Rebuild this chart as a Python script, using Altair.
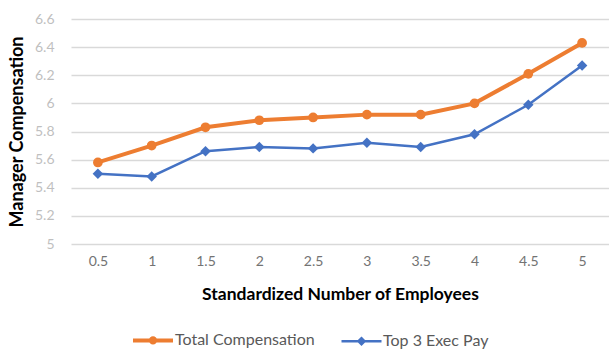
import altair as alt
import pandas as pd

# Standardized number of employees (x categories)
employees = ["0.5", "1", "1.5", "2", "2.5", "3", "3.5", "4", "4.5", "5"]
# Manager compensation by series
total_comp = [5.58, 5.70, 5.83, 5.88, 5.90, 5.92, 5.92, 6.00, 6.21, 6.43]
top3_pay = [5.50, 5.48, 5.66, 5.69, 5.68, 5.72, 5.69, 5.78, 5.99, 6.27]

series_names = ["Total Compensation", "Top 3 Exec Pay"]
series_colors = ["#ED7D31", "#4472C4"]
series_shapes = ["circle", "diamond"]
marker_sizes = [95, 110]
line_widths = [4, 2.5]
y_ticks = [5, 5.2, 5.4, 5.6, 5.8, 6, 6.2, 6.4, 6.6]

# legend glyphs: a short line segment with the series marker on it
legend_glyphs = [
    "M-1,0H1M-0.11,0A0.11,0.11,0,1,1,0.11,0A0.11,0.11,0,1,1,-0.11,0Z",
    "M-1,0H1M-0.15,0L0,-0.15L0.15,0L0,0.15Z",
]

rows = []
for name, values in zip(series_names, [total_comp, top3_pay]):
    for i, (x, v) in enumerate(zip(employees, values)):
        rows.append({"employees": x, "value": v, "series": name, "idx": i})
df = pd.DataFrame(rows)

FONT = "Lato"

x_enc = alt.X(
    "employees:O",
    sort=employees,
    scale=alt.Scale(type="point", padding=0.5),
    axis=alt.Axis(
        title="Standardized Number of Employees",
        labelAngle=0,
        ticks=False,
        domain=False,
        grid=False,
        labelPadding=10,
        labelFont=FONT,
        labelFontSize=14,
        labelColor="#737373",
        titleFont=FONT,
        titleFontSize=17.5,
        titleFontWeight="bold",
        titleColor="#000000",
        titlePadding=17,
    ),
)
y_enc = alt.Y(
    "value:Q",
    scale=alt.Scale(domain=[5, 6.6], nice=False, zero=False),
    axis=alt.Axis(
        values=y_ticks,
        format=".1~f",
        title="Manager Compensation",
        ticks=False,
        domain=False,
        grid=True,
        gridColor="#d9d9d9",
        gridWidth=1.5,
        labelPadding=17,
        labelFont=FONT,
        labelFontSize=14,
        labelColor="#bfbfbf",
        titleFont=FONT,
        titleFontSize=18,
        titleFontWeight="bold",
        titleColor="#000000",
        titlePadding=8,
    ),
)

base = alt.Chart(df)

layers = []
for name, color, shape, msize, lw in zip(
    series_names, series_colors, series_shapes, marker_sizes, line_widths
):
    one = base.transform_filter(alt.datum.series == name)
    layers.append(
        one.mark_line(color=color, strokeWidth=lw).encode(
            x=x_enc, y=y_enc, order=alt.Order("idx:Q")
        )
    )
    layers.append(
        one.mark_point(shape=shape, filled=True, size=msize, opacity=1, color=color).encode(
            x=x_enc, y=y_enc
        )
    )

# legend-only layer (no rows drawn)
color_scale = alt.Scale(domain=series_names, range=series_colors)
legend_layer = (
    base.transform_filter("false")
    .mark_point(filled=True, opacity=1)
    .encode(
        x=x_enc,
        y=y_enc,
        fill=alt.Fill("series:N", scale=color_scale, title=None),
        stroke=alt.Stroke("series:N", scale=color_scale, title=None),
        shape=alt.Shape(
            "series:N",
            scale=alt.Scale(domain=series_names, range=legend_glyphs),
            title=None,
        ),
        strokeWidth=alt.StrokeWidth(
            "series:N",
            scale=alt.Scale(domain=series_names, range=line_widths),
            title=None,
        ),
    )
)
layers.append(legend_layer)

chart = (
    alt.layer(*layers)
    .properties(
        width=538,
        height=225,
        autosize=alt.AutoSizeParams(type="none"),
        padding={"left": 71, "top": 19, "right": 0, "bottom": 108},
        background="white",
    )
    .configure_view(stroke=None)
    .configure_legend(
        orient="none",
        legendX=60,
        legendY=299,
        direction="horizontal",
        symbolSize=1600,
        labelFont=FONT,
        labelFontSize=16,
        labelColor="#595959",
        labelOffset=0,
        columnPadding=21,
    )
)

chart.save("out.html", embed_options={"renderer": "svg", "actions": False})
